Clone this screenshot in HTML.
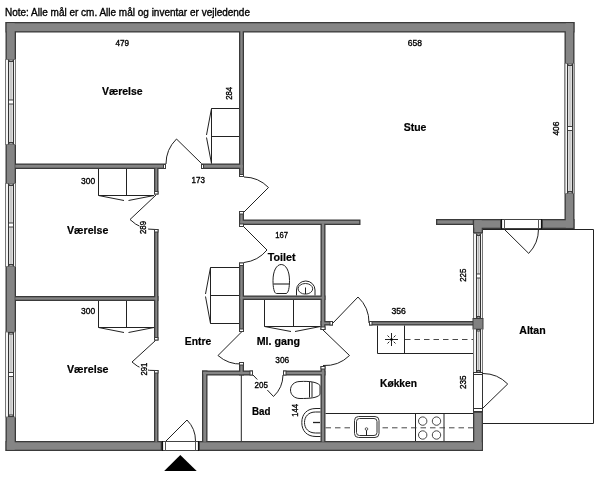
<!DOCTYPE html>
<html><head><meta charset="utf-8"><style>
html,body{margin:0;padding:0;background:#fff;width:600px;height:477px;overflow:hidden}
svg{display:block}
text{font-family:"Liberation Sans",sans-serif;fill:#000}
svg{will-change:transform}
</style></head><body>
<svg width="600" height="477" viewBox="0 0 600 477">
<rect width="600" height="477" fill="#fff"/>
<path d="M483 229.5 H593.5 V423.5 H483" fill="none" stroke="#222" stroke-width="1.0"/>
<path d="M201.5 163.5 L176.5 139 A35 35 0 0 0 166 164" fill="none" stroke="#222" stroke-width="1.0"/>
<path d="M244 212 L268.5 187.5 A35 35 0 0 0 244 177" fill="none" stroke="#222" stroke-width="1.0"/>
<path d="M156 195 L130 219.5 A35 35 0 0 0 156 229.5" fill="none" stroke="#222" stroke-width="1.0"/>
<path d="M155.5 340.5 L132 362 A32 32 0 0 0 156 370.5" fill="none" stroke="#222" stroke-width="1.0"/>
<path d="M166 441 L187 420 A29.5 29.5 0 0 1 195.5 441" fill="none" stroke="#222" stroke-width="1.0"/>
<path d="M244 227 L267 250 A35 35 0 0 1 244 262.5" fill="none" stroke="#222" stroke-width="1.0"/>
<path d="M242 331.5 L218 355.5 A34 34 0 0 0 242 364" fill="none" stroke="#222" stroke-width="1.0"/>
<path d="M323 330 L349.5 355.5 A35 35 0 0 1 323 365.5" fill="none" stroke="#222" stroke-width="1.0"/>
<path d="M333 323 L358 297 A35 35 0 0 1 369 323" fill="none" stroke="#222" stroke-width="1.0"/>
<path d="M253 375 L273.5 396.5 A30 30 0 0 0 283 375" fill="none" stroke="#222" stroke-width="1.0"/>
<path d="M504 229 L528.7 253.4 A35 35 0 0 0 538.5 229" fill="none" stroke="#222" stroke-width="1.0"/>
<path d="M483 408 L507.7 384 A35 35 0 0 0 483 373.5" fill="none" stroke="#222" stroke-width="1.0"/>
<path d="M239 108.5 H211.5 V163.5 M211.5 136.5 H239" fill="none" stroke="#222" stroke-width="1.0"/>
<path d="M211.5 108.5 L206.5 135 M206.5 137.5 L211.5 163.5" fill="none" stroke="#222" stroke-width="1.0"/>
<path d="M98.5 169 V195.5 H154 M126.5 169 V195.5" fill="none" stroke="#222" stroke-width="1.0"/>
<path d="M98.5 195.5 L124 200.5 M128.5 200.5 L154 195.5" fill="none" stroke="#222" stroke-width="1.0"/>
<path d="M98.5 301 V327.5 H154 M126.5 301 V327.5" fill="none" stroke="#222" stroke-width="1.0"/>
<path d="M98.5 327.5 L124 332.5 M128.5 332.5 L154 327.5" fill="none" stroke="#222" stroke-width="1.0"/>
<path d="M239 267.5 H210.5 V323.5 H239 M210.5 295.5 H239" fill="none" stroke="#222" stroke-width="1.0"/>
<path d="M210.5 267.5 L205.5 294 M205.5 296.5 L210.5 323.5" fill="none" stroke="#222" stroke-width="1.0"/>
<path d="M264.5 300 V326.5 H320.5 M293.5 300 V326.5" fill="none" stroke="#222" stroke-width="1.0"/>
<path d="M264.5 326.5 L291 331.5 M295 331.5 L320.5 326.5" fill="none" stroke="#222" stroke-width="1.0"/>
<path d="M281.2 264.5 C276.5 264.5 273 271 273 280.5 C273 287 274 293.5 276.5 293.5 H286 C288.5 293.5 289.5 287 289.5 280.5 C289.5 271 286 264.5 281.2 264.5 Z" fill="none" stroke="#222" stroke-width="1.0"/>
<path d="M273.3 284 H289.2" fill="none" stroke="#444" stroke-width="1.3"/>
<path d="M296.5 295.5 V290 A9.25 9 0 0 1 315 290 V295.5" fill="none" stroke="#222" stroke-width="1.0"/>
<ellipse cx="305.4" cy="288.8" rx="7.3" ry="5.3" fill="none" stroke="#333" stroke-width="1"/>
<path d="M305.5 287.5 V294" fill="none" stroke="#222" stroke-width="1.0"/>
<path d="M300 381.5 C310 381 317 382 320 385.5 V394.5 C317 398 310 398.5 300 398.5 C294 398.5 290.5 394.5 290.5 390 C290.5 385.5 294 381.5 300 381.5 Z" fill="none" stroke="#222" stroke-width="1.0"/>
<path d="M309.5 382 V397.5 M312 382 V397.5" fill="none" stroke="#222" stroke-width="1.0"/>
<path d="M320.5 408.5 H316 C307 408.5 301.8 414 301.8 422.5 C301.8 431 307 436.5 316 436.5 H320.5" fill="none" stroke="#222" stroke-width="1.0"/>
<path d="M320.5 412 H315.5 C308.5 412 304.5 416.5 304.5 422.5 C304.5 428.5 308.5 433 315.5 433 H320.5" fill="none" stroke="#222" stroke-width="1.0"/>
<path d="M313 422.5 H320" fill="none" stroke="#222" stroke-width="1.3"/>
<path d="M325.5 413.5 H473" fill="none" stroke="#222" stroke-width="1.0"/>
<path d="M415.5 413.5 V441 M444 413.5 V441" fill="none" stroke="#222" stroke-width="1.0"/>
<line x1="325.5" y1="427.8" x2="473" y2="427.8" stroke="#333" stroke-width="0.9" stroke-dasharray="5.5 4"/>
<rect x="354.5" y="416.5" width="24.5" height="21" rx="4" fill="#fff" stroke="#333" stroke-width="1"/>
<rect x="356.5" y="418.5" width="20.5" height="17" rx="3" fill="none" stroke="#333" stroke-width="1"/>
<circle cx="366.5" cy="429" r="1.3" fill="none" stroke="#333" stroke-width="0.8"/>
<path d="M366.5 430.3 V436" fill="none" stroke="#222" stroke-width="1.0"/>
<circle cx="422.7" cy="421.1" r="4.2" fill="#fff" stroke="#333" stroke-width="0.9"/>
<circle cx="422.7" cy="435" r="4.2" fill="#fff" stroke="#333" stroke-width="0.9"/>
<circle cx="436.5" cy="421.1" r="4.2" fill="#fff" stroke="#333" stroke-width="0.9"/>
<circle cx="436.5" cy="435" r="4.2" fill="#fff" stroke="#333" stroke-width="0.9"/>
<path d="M377.5 325.5 V353.5 H473 M404.5 325.5 V353.5" fill="none" stroke="#222" stroke-width="1.0"/>
<line x1="405" y1="339.5" x2="473" y2="339.5" stroke="#333" stroke-width="0.9" stroke-dasharray="5.5 4"/>
<path d="M385 339.5 H398 M391.5 333 V346 M387.5 335.5 L389.3 337.3 M395.5 335.5 L393.7 337.3 M387.5 343.5 L389.3 341.7 M395.5 343.5 L393.7 341.7" fill="none" stroke="#222" stroke-width="1.0"/>
<circle cx="391.5" cy="339.5" r="1.3" fill="#000"/>
<path d="M241.3 375 V441" fill="none" stroke="#222" stroke-width="1.0"/>
<rect x="5.5" y="22" width="569.0" height="10.5" fill="#3a3a3a"/>
<rect x="5.5" y="22" width="10.5" height="429" fill="#3a3a3a"/>
<rect x="564.5" y="22" width="10.0" height="207" fill="#3a3a3a"/>
<rect x="5.5" y="441" width="156.5" height="10" fill="#3a3a3a"/>
<rect x="198.5" y="441" width="284.5" height="10" fill="#3a3a3a"/>
<rect x="473" y="411.5" width="10" height="39.5" fill="#3a3a3a"/>
<rect x="436" y="219" width="38" height="6" fill="#3a3a3a"/>
<rect x="473" y="219" width="28.5" height="10" fill="#3a3a3a"/>
<rect x="473" y="219" width="10" height="14.5" fill="#3a3a3a"/>
<rect x="541.5" y="219" width="33.0" height="10" fill="#3a3a3a"/>
<rect x="239" y="29" width="5" height="148" fill="#3a3a3a"/>
<rect x="14" y="163.5" width="152" height="5.5" fill="#3a3a3a"/>
<rect x="201" y="163.5" width="43" height="5.5" fill="#3a3a3a"/>
<rect x="154" y="167" width="4.5" height="27.5" fill="#3a3a3a"/>
<rect x="154" y="229" width="4.5" height="111.5" fill="#3a3a3a"/>
<rect x="14" y="296" width="144.5" height="5" fill="#3a3a3a"/>
<rect x="154" y="370" width="4.5" height="73" fill="#3a3a3a"/>
<rect x="239" y="211" width="5" height="16" fill="#3a3a3a"/>
<rect x="239" y="262.5" width="5" height="69.5" fill="#3a3a3a"/>
<rect x="239" y="219.5" width="121.5" height="5.5" fill="#3a3a3a"/>
<rect x="320.5" y="222" width="5.0" height="108" fill="#3a3a3a"/>
<rect x="320.5" y="366" width="5.0" height="77" fill="#3a3a3a"/>
<rect x="239" y="295.5" width="86.5" height="4.5" fill="#3a3a3a"/>
<rect x="320.5" y="321" width="12.5" height="4.5" fill="#3a3a3a"/>
<rect x="369" y="321" width="106" height="4.5" fill="#3a3a3a"/>
<rect x="202" y="370.5" width="51" height="5.0" fill="#3a3a3a"/>
<rect x="283" y="370.5" width="42.5" height="5.0" fill="#3a3a3a"/>
<rect x="239" y="362" width="5" height="13.5" fill="#3a3a3a"/>
<rect x="202" y="370.5" width="5.5" height="72.5" fill="#3a3a3a"/>
<rect x="6.8" y="23.3" width="566.4" height="7.9" fill="#858585"/>
<rect x="6.8" y="23.3" width="7.9" height="426.4" fill="#858585"/>
<rect x="565.8" y="23.3" width="7.4" height="204.4" fill="#858585"/>
<rect x="6.8" y="442.3" width="153.9" height="7.4" fill="#858585"/>
<rect x="199.8" y="442.3" width="281.9" height="7.4" fill="#858585"/>
<rect x="474.3" y="412.8" width="7.4" height="36.9" fill="#858585"/>
<rect x="437.3" y="220.3" width="35.4" height="3.4" fill="#858585"/>
<rect x="474.3" y="220.3" width="25.9" height="7.4" fill="#858585"/>
<rect x="474.3" y="220.3" width="7.4" height="11.9" fill="#858585"/>
<rect x="542.8" y="220.3" width="30.4" height="7.4" fill="#858585"/>
<rect x="240.3" y="30.3" width="2.4" height="145.4" fill="#858585"/>
<rect x="15.3" y="164.8" width="149.4" height="2.9" fill="#858585"/>
<rect x="202.3" y="164.8" width="40.4" height="2.9" fill="#858585"/>
<rect x="155.3" y="168.3" width="1.9" height="24.9" fill="#858585"/>
<rect x="155.3" y="230.3" width="1.9" height="108.9" fill="#858585"/>
<rect x="15.3" y="297.3" width="141.9" height="2.4" fill="#858585"/>
<rect x="155.3" y="371.3" width="1.9" height="70.4" fill="#858585"/>
<rect x="240.3" y="212.3" width="2.4" height="13.4" fill="#858585"/>
<rect x="240.3" y="263.8" width="2.4" height="66.9" fill="#858585"/>
<rect x="240.3" y="220.8" width="118.9" height="2.9" fill="#858585"/>
<rect x="321.8" y="223.3" width="2.4" height="105.4" fill="#858585"/>
<rect x="321.8" y="367.3" width="2.4" height="74.4" fill="#858585"/>
<rect x="240.3" y="296.8" width="83.9" height="1.9" fill="#858585"/>
<rect x="321.8" y="322.3" width="9.9" height="1.9" fill="#858585"/>
<rect x="370.3" y="322.3" width="103.4" height="1.9" fill="#858585"/>
<rect x="203.3" y="371.8" width="48.4" height="2.4" fill="#858585"/>
<rect x="284.3" y="371.8" width="39.9" height="2.4" fill="#858585"/>
<rect x="240.3" y="363.3" width="2.4" height="10.9" fill="#858585"/>
<rect x="203.3" y="371.8" width="2.9" height="69.9" fill="#858585"/>
<rect x="163.5" y="164.5" width="2.00" height="4.00" fill="#fff" stroke="#3c3c3c" stroke-width="1"/>
<rect x="201.5" y="164.5" width="2.00" height="4.00" fill="#fff" stroke="#3c3c3c" stroke-width="1"/>
<rect x="239.5" y="174.5" width="4.00" height="2.00" fill="#fff" stroke="#3c3c3c" stroke-width="1"/>
<rect x="239.5" y="211.5" width="4.00" height="2.50" fill="#fff" stroke="#3c3c3c" stroke-width="1"/>
<rect x="239.5" y="224.0" width="4.00" height="2.50" fill="#fff" stroke="#3c3c3c" stroke-width="1"/>
<rect x="154.5" y="191.5" width="3.50" height="2.50" fill="#fff" stroke="#3c3c3c" stroke-width="1"/>
<rect x="154.5" y="229.5" width="3.50" height="2.50" fill="#fff" stroke="#3c3c3c" stroke-width="1"/>
<rect x="154.5" y="337.5" width="3.50" height="2.50" fill="#fff" stroke="#3c3c3c" stroke-width="1"/>
<rect x="154.5" y="370.5" width="3.50" height="2.50" fill="#fff" stroke="#3c3c3c" stroke-width="1"/>
<rect x="239.5" y="263.0" width="4.00" height="2.50" fill="#fff" stroke="#3c3c3c" stroke-width="1"/>
<rect x="239.5" y="329.0" width="4.00" height="2.50" fill="#fff" stroke="#3c3c3c" stroke-width="1"/>
<rect x="321.0" y="327.0" width="4.00" height="2.50" fill="#fff" stroke="#3c3c3c" stroke-width="1"/>
<rect x="321.0" y="366.5" width="4.00" height="2.50" fill="#fff" stroke="#3c3c3c" stroke-width="1"/>
<rect x="330.0" y="321.5" width="2.50" height="3.50" fill="#fff" stroke="#3c3c3c" stroke-width="1"/>
<rect x="369.5" y="321.5" width="2.50" height="3.50" fill="#fff" stroke="#3c3c3c" stroke-width="1"/>
<rect x="250.0" y="371.0" width="2.50" height="4.00" fill="#fff" stroke="#3c3c3c" stroke-width="1"/>
<rect x="283.5" y="371.0" width="2.50" height="4.00" fill="#fff" stroke="#3c3c3c" stroke-width="1"/>
<rect x="239.5" y="362.5" width="4.00" height="2.50" fill="#fff" stroke="#3c3c3c" stroke-width="1"/>
<rect x="162.5" y="441.5" width="36" height="9" fill="#fff" stroke="#444" stroke-width="1"/>
<line x1="162.5" y1="441" x2="162.5" y2="451" stroke="#111" stroke-width="1.2" />
<line x1="198.5" y1="441" x2="198.5" y2="451" stroke="#111" stroke-width="1.2" />
<line x1="165.5" y1="441.5" x2="165.5" y2="450.5" stroke="#555" stroke-width="1" />
<line x1="195.5" y1="441.5" x2="195.5" y2="450.5" stroke="#555" stroke-width="1" />
<rect x="501.5" y="219.5" width="40" height="9" fill="#fff" stroke="#444" stroke-width="1"/>
<line x1="501.5" y1="219" x2="501.5" y2="229" stroke="#111" stroke-width="1.2" />
<line x1="541.5" y1="219" x2="541.5" y2="229" stroke="#111" stroke-width="1.2" />
<line x1="504.5" y1="219.5" x2="504.5" y2="228.5" stroke="#555" stroke-width="1" />
<line x1="538.5" y1="219.5" x2="538.5" y2="228.5" stroke="#555" stroke-width="1" />
<rect x="5.5" y="59.5" width="10" height="85.0" fill="#f4f4f4" stroke="#777" stroke-width="1"/>
<rect x="8.5" y="59.5" width="5.0" height="85.0" fill="#dedede"/>
<line x1="8.5" y1="59.5" x2="8.5" y2="144.5" stroke="#333" stroke-width="1" />
<line x1="13.5" y1="59.5" x2="13.5" y2="144.5" stroke="#333" stroke-width="1" />
<line x1="11.0" y1="59.5" x2="11.0" y2="144.5" stroke="#aaa" stroke-width="0.8" />
<rect x="9.0" y="60.0" width="4.00" height="1.50" fill="#fff" stroke="#3c3c3c" stroke-width="1"/>
<rect x="9.0" y="142.5" width="4.00" height="1.50" fill="#fff" stroke="#3c3c3c" stroke-width="1"/>
<rect x="8.5" y="100.0" width="5.0" height="4" fill="#fff" stroke="#333" stroke-width="0.9"/>
<rect x="5.5" y="183.5" width="10" height="83.0" fill="#f4f4f4" stroke="#777" stroke-width="1"/>
<rect x="8.5" y="183.5" width="5.0" height="83.0" fill="#dedede"/>
<line x1="8.5" y1="183.5" x2="8.5" y2="266.5" stroke="#333" stroke-width="1" />
<line x1="13.5" y1="183.5" x2="13.5" y2="266.5" stroke="#333" stroke-width="1" />
<line x1="11.0" y1="183.5" x2="11.0" y2="266.5" stroke="#aaa" stroke-width="0.8" />
<rect x="9.0" y="184.0" width="4.00" height="1.50" fill="#fff" stroke="#3c3c3c" stroke-width="1"/>
<rect x="9.0" y="264.5" width="4.00" height="1.50" fill="#fff" stroke="#3c3c3c" stroke-width="1"/>
<rect x="8.5" y="223.0" width="5.0" height="4" fill="#fff" stroke="#333" stroke-width="0.9"/>
<rect x="5.5" y="332" width="10" height="85" fill="#f4f4f4" stroke="#777" stroke-width="1"/>
<rect x="8.5" y="332" width="5.0" height="85" fill="#dedede"/>
<line x1="8.5" y1="332" x2="8.5" y2="417" stroke="#333" stroke-width="1" />
<line x1="13.5" y1="332" x2="13.5" y2="417" stroke="#333" stroke-width="1" />
<line x1="11.0" y1="332" x2="11.0" y2="417" stroke="#aaa" stroke-width="0.8" />
<rect x="9.0" y="332.5" width="4.00" height="1.50" fill="#fff" stroke="#3c3c3c" stroke-width="1"/>
<rect x="9.0" y="415.0" width="4.00" height="1.50" fill="#fff" stroke="#3c3c3c" stroke-width="1"/>
<rect x="8.5" y="372.5" width="5.0" height="4" fill="#fff" stroke="#333" stroke-width="0.9"/>
<rect x="565.0" y="63.5" width="9.0" height="130.0" fill="#f4f4f4" stroke="#777" stroke-width="1"/>
<rect x="567.5" y="63.5" width="5.0" height="130.0" fill="#dedede"/>
<line x1="567.5" y1="63.5" x2="567.5" y2="193.5" stroke="#333" stroke-width="1" />
<line x1="572.5" y1="63.5" x2="572.5" y2="193.5" stroke="#333" stroke-width="1" />
<line x1="570.0" y1="63.5" x2="570.0" y2="193.5" stroke="#aaa" stroke-width="0.8" />
<rect x="568.0" y="64.0" width="4.00" height="1.50" fill="#fff" stroke="#3c3c3c" stroke-width="1"/>
<rect x="568.0" y="191.5" width="4.00" height="1.50" fill="#fff" stroke="#3c3c3c" stroke-width="1"/>
<rect x="567.5" y="126.5" width="5.0" height="4" fill="#fff" stroke="#333" stroke-width="0.9"/>
<rect x="473.5" y="233.5" width="9" height="85.0" fill="#f4f4f4" stroke="#777" stroke-width="1"/>
<rect x="476.5" y="233.5" width="4.0" height="85.0" fill="#dedede"/>
<line x1="476.5" y1="233.5" x2="476.5" y2="318.5" stroke="#333" stroke-width="1" />
<line x1="480.5" y1="233.5" x2="480.5" y2="318.5" stroke="#333" stroke-width="1" />
<line x1="478.5" y1="233.5" x2="478.5" y2="318.5" stroke="#aaa" stroke-width="0.8" />
<rect x="477.0" y="234.0" width="3.00" height="1.50" fill="#fff" stroke="#3c3c3c" stroke-width="1"/>
<rect x="477.0" y="316.5" width="3.00" height="1.50" fill="#fff" stroke="#3c3c3c" stroke-width="1"/>
<rect x="476.5" y="274.0" width="4.0" height="4" fill="#fff" stroke="#333" stroke-width="0.9"/>
<rect x="473" y="318.5" width="10.00" height="10.50" fill="#808080" stroke="#3c3c3c" stroke-width="1"/>
<rect x="473.5" y="329" width="9" height="43.5" fill="#f4f4f4" stroke="#777" stroke-width="1"/>
<rect x="476.5" y="329" width="4.0" height="43.5" fill="#dedede"/>
<line x1="476.5" y1="329" x2="476.5" y2="372.5" stroke="#333" stroke-width="1" />
<line x1="480.5" y1="329" x2="480.5" y2="372.5" stroke="#333" stroke-width="1" />
<line x1="478.5" y1="329" x2="478.5" y2="372.5" stroke="#aaa" stroke-width="0.8" />
<rect x="477.0" y="329.5" width="3.00" height="1.50" fill="#fff" stroke="#3c3c3c" stroke-width="1"/>
<rect x="477.0" y="370.5" width="3.00" height="1.50" fill="#fff" stroke="#3c3c3c" stroke-width="1"/>
<rect x="473.5" y="372.5" width="9" height="39" fill="#fff" stroke="#333" stroke-width="1"/>
<line x1="473.5" y1="374.5" x2="482.5" y2="374.5" stroke="#333" stroke-width="1" />
<line x1="473.5" y1="408.5" x2="482.5" y2="408.5" stroke="#333" stroke-width="1" />
<path d="M180.3 455 L196.7 471 L164.2 471 Z" fill="#000"/>
<rect x="139.5" y="219.5" width="8.5" height="15.0" fill="#fff"/>
<rect x="139.5" y="361" width="8.5" height="15" fill="#fff"/>
<rect x="254" y="379.5" width="15" height="10.5" fill="#fff"/>
<text x="5" y="16" font-size="10.5" font-weight="normal" stroke="#000" stroke-width="0.35" textLength="245" lengthAdjust="spacingAndGlyphs">Note: Alle mål er cm. Alle mål og inventar er vejledende</text>
<text x="115.4" y="46" font-size="9" font-weight="normal" stroke="#000" stroke-width="0.35" textLength="13.6" lengthAdjust="spacingAndGlyphs">479</text>
<text x="407.8" y="45.6" font-size="9" font-weight="normal" stroke="#000" stroke-width="0.35" textLength="14.2" lengthAdjust="spacingAndGlyphs">658</text>
<text x="102" y="94.9" font-size="10.7" font-weight="bold" stroke="#000" stroke-width="0.2" textLength="40.6" lengthAdjust="spacingAndGlyphs">Værelse</text>
<text x="403.8" y="131.3" font-size="10.7" font-weight="bold" stroke="#000" stroke-width="0.2" textLength="22.6" lengthAdjust="spacingAndGlyphs">Stue</text>
<text x="232.5" y="99.8" font-size="9" font-weight="normal" stroke="#000" stroke-width="0.35" textLength="13" lengthAdjust="spacingAndGlyphs" transform="rotate(-90 232.5 99.8)">284</text>
<text x="558.8" y="135.6" font-size="9" font-weight="normal" stroke="#000" stroke-width="0.35" textLength="14" lengthAdjust="spacingAndGlyphs" transform="rotate(-90 558.8 135.6)">406</text>
<text x="81" y="183.5" font-size="9" font-weight="normal" stroke="#000" stroke-width="0.35" textLength="14.2" lengthAdjust="spacingAndGlyphs">300</text>
<text x="191.6" y="183.3" font-size="9" font-weight="normal" stroke="#000" stroke-width="0.35" textLength="13.4" lengthAdjust="spacingAndGlyphs">173</text>
<text x="67" y="233.8" font-size="10.7" font-weight="bold" stroke="#000" stroke-width="0.2" textLength="41.3" lengthAdjust="spacingAndGlyphs">Værelse</text>
<text x="146.2" y="234" font-size="9" font-weight="normal" stroke="#000" stroke-width="0.35" textLength="13" lengthAdjust="spacingAndGlyphs" transform="rotate(-90 146.2 234)">289</text>
<text x="275.2" y="238.2" font-size="9" font-weight="normal" stroke="#000" stroke-width="0.35" textLength="12.8" lengthAdjust="spacingAndGlyphs">167</text>
<text x="267.8" y="260.9" font-size="10.7" font-weight="bold" stroke="#000" stroke-width="0.2" textLength="27.7" lengthAdjust="spacingAndGlyphs">Toilet</text>
<text x="466" y="281.8" font-size="9" font-weight="normal" stroke="#000" stroke-width="0.35" textLength="13.1" lengthAdjust="spacingAndGlyphs" transform="rotate(-90 466 281.8)">225</text>
<text x="81" y="314.3" font-size="9" font-weight="normal" stroke="#000" stroke-width="0.35" textLength="14.2" lengthAdjust="spacingAndGlyphs">300</text>
<text x="391.5" y="314.1" font-size="9" font-weight="normal" stroke="#000" stroke-width="0.35" textLength="14.4" lengthAdjust="spacingAndGlyphs">356</text>
<text x="519.3" y="333.6" font-size="10.7" font-weight="bold" stroke="#000" stroke-width="0.2" textLength="26.4" lengthAdjust="spacingAndGlyphs">Altan</text>
<text x="184.8" y="345.3" font-size="10.7" font-weight="bold" stroke="#000" stroke-width="0.2" textLength="26.4" lengthAdjust="spacingAndGlyphs">Entre</text>
<text x="256.7" y="344.7" font-size="10.7" font-weight="bold" stroke="#000" stroke-width="0.2" textLength="43.3" lengthAdjust="spacingAndGlyphs">Ml. gang</text>
<text x="67" y="372.6" font-size="10.7" font-weight="bold" stroke="#000" stroke-width="0.2" textLength="41.5" lengthAdjust="spacingAndGlyphs">Værelse</text>
<text x="147" y="375.6" font-size="9" font-weight="normal" stroke="#000" stroke-width="0.35" textLength="13" lengthAdjust="spacingAndGlyphs" transform="rotate(-90 147 375.6)">291</text>
<text x="275.3" y="363.3" font-size="9" font-weight="normal" stroke="#000" stroke-width="0.35" textLength="13.9" lengthAdjust="spacingAndGlyphs">306</text>
<text x="254.6" y="387.7" font-size="9" font-weight="normal" stroke="#000" stroke-width="0.35" textLength="13.4" lengthAdjust="spacingAndGlyphs">205</text>
<text x="380" y="387" font-size="10.7" font-weight="bold" stroke="#000" stroke-width="0.2" textLength="37" lengthAdjust="spacingAndGlyphs">Køkken</text>
<text x="465.8" y="388.9" font-size="9" font-weight="normal" stroke="#000" stroke-width="0.35" textLength="13.5" lengthAdjust="spacingAndGlyphs" transform="rotate(-90 465.8 388.9)">235</text>
<text x="252" y="415" font-size="10.7" font-weight="bold" stroke="#000" stroke-width="0.2" textLength="18.5" lengthAdjust="spacingAndGlyphs">Bad</text>
<text x="298.2" y="416.7" font-size="9" font-weight="normal" stroke="#000" stroke-width="0.35" textLength="12.7" lengthAdjust="spacingAndGlyphs" transform="rotate(-90 298.2 416.7)">144</text>
</svg>
</body></html>
